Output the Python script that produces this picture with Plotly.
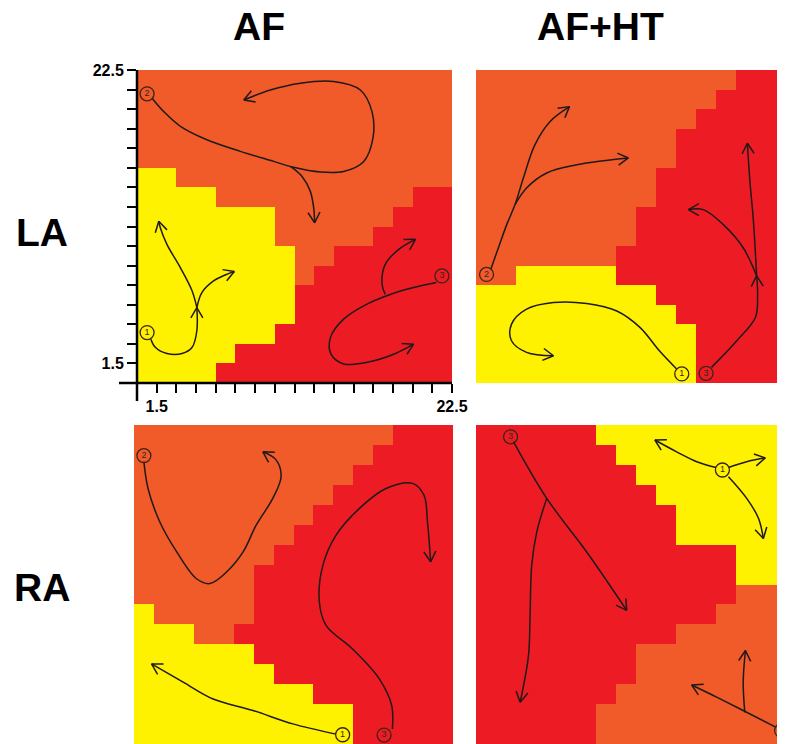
import math
import plotly.graph_objects as go

# the page is photographed in a 785x744 window; the plot div sits 8 px in from the
# top-left corner (default page margin), so the figure itself is 777x736
OFF = 8
W, H = 785 - OFF, 744 - OFF


def px(xp):
    return (xp - OFF) / W


def py(yp):
    return 1 - (yp - OFF) / H


# ---------------- data ----------------
col_titles = ["AF", "AF+HT"]
row_titles = ["LA", "RA"]
axis_tick_labels = ["1.5", "22.5"]

# cell centres (16 x 16 grid on a 1.5 ... 22.5 scale, step 1.4)
cell_centers = [0.8, 2.2, 3.6, 5.0, 6.4, 7.8, 9.2, 10.6, 12.0, 13.4, 14.8, 16.2, 17.6, 19.0, 20.4, 21.8]
cell_edges = [1.5, 2.9, 4.3, 5.7, 7.1, 8.5, 9.9, 11.3, 12.7, 14.1, 15.5, 16.9, 18.3, 19.7, 21.1, 22.5]

# dominant state per cell, top row first (Y = state 1, O = state 2, R = state 3)
grid_LA_AF = [
    "OOOOOOOOOOOOOOOO",
    "OOOOOOOOOOOOOOOO",
    "OOOOOOOOOOOOOOOO",
    "OOOOOOOOOOOOOOOO",
    "OOOOOOOOOOOOOOOO",
    "YYOOOOOOOOOOOOOO",
    "YYYYOOOOOOOOOORR",
    "YYYYYYYOOOOOORRR",
    "YYYYYYYOOOOORRRR",
    "YYYYYYYYOORRRRRR",
    "YYYYYYYYORRRRRRR",
    "YYYYYYYYRRRRRRRR",
    "YYYYYYYYRRRRRRRR",
    "YYYYYYYRRRRRRRRR",
    "YYYYYRRRRRRRRRRR",
    "YYYYRRRRRRRRRRRR",
]
grid_LA_AFHT = [
    "OOOOOOOOOOOOORRR",
    "OOOOOOOOOOOORRRR",
    "OOOOOOOOOOORRRRR",
    "OOOOOOOOOORRRRRR",
    "OOOOOOOOOORRRRRR",
    "OOOOOOOOORRRRRRR",
    "OOOOOOOOORRRRRRR",
    "OOOOOOOORRRRRRRR",
    "OOOOOOOORRRRRRRR",
    "OOOOOOORRRRRRRRR",
    "OOYYYYYRRRRRRRRR",
    "YYYYYYYYYRRRRRRR",
    "YYYYYYYYYYRRRRRR",
    "YYYYYYYYYYYRRRRR",
    "YYYYYYYYYYYRRRRR",
    "YYYYYYYYYYYRRRRR",
]
grid_RA_AF = [
    "OOOOOOOOOOOOORRR",
    "OOOOOOOOOOOORRRR",
    "OOOOOOOOOOORRRRR",
    "OOOOOOOOOORRRRRR",
    "OOOOOOOOORRRRRRR",
    "OOOOOOOORRRRRRRR",
    "OOOOOOORRRRRRRRR",
    "OOOOOORRRRRRRRRR",
    "OOOOOORRRRRRRRRR",
    "YOOOOORRRRRRRRRR",
    "YYYOORRRRRRRRRRR",
    "YYYYYYRRRRRRRRRR",
    "YYYYYYYRRRRRRRRR",
    "YYYYYYYYYRRRRRRR",
    "YYYYYYYYYYYRRRRR",
    "YYYYYYYYYYYRRRRR",
]
grid_RA_AFHT = [
    "RRRRRRYYYYYYYYYY",
    "RRRRRRRYYYYYYYYY",
    "RRRRRRRRYYYYYYYY",
    "RRRRRRRRRYYYYYYY",
    "RRRRRRRRRRYYYYYY",
    "RRRRRRRRRRYYYYYY",
    "RRRRRRRRRRRRRYYY",
    "RRRRRRRRRRRRRYYY",
    "RRRRRRRRRRRRROOO",
    "RRRRRRRRRRRROOOO",
    "RRRRRRRRRROOOOOO",
    "RRRRRRRROOOOOOOO",
    "RRRRRRRROOOOOOOO",
    "RRRRRRROOOOOOOOO",
    "RRRRRROOOOOOOOOO",
    "RRRRRROOOOOOOOOO",
]

# trajectories, as fractions (u across, v up) of the full 16x16 grid; arrow at the last point
paths_LA_AF = [
    [(0.044, 0.140), (0.058, 0.114), (0.095, 0.094), (0.143, 0.094), (0.175, 0.114), (0.190, 0.167), (0.190, 0.241)],
    [(0.190, 0.241), (0.175, 0.294), (0.138, 0.368), (0.095, 0.443), (0.074, 0.496), (0.069, 0.517)],
    [(0.190, 0.241), (0.206, 0.289), (0.243, 0.326), (0.280, 0.345), (0.309, 0.356)],
    [(0.048, 0.910), (0.085, 0.867), (0.138, 0.820), (0.222, 0.777), (0.328, 0.740), (0.434, 0.708),
     (0.497, 0.689), (0.582, 0.674), (0.656, 0.676), (0.720, 0.708), (0.749, 0.782), (0.746, 0.867),
     (0.709, 0.936), (0.624, 0.963), (0.519, 0.958), (0.423, 0.936), (0.339, 0.904)],
    [(0.487, 0.692), (0.524, 0.660), (0.550, 0.613), (0.561, 0.559), (0.564, 0.512)],
    [(0.950, 0.321), (0.878, 0.305), (0.804, 0.283), (0.730, 0.252), (0.656, 0.204), (0.614, 0.145),
     (0.616, 0.092), (0.656, 0.061), (0.730, 0.066), (0.815, 0.092), (0.878, 0.124)],
    [(0.788, 0.283), (0.778, 0.315), (0.788, 0.379), (0.831, 0.427), (0.884, 0.459)],
]
paths_LA_AFHT = [
    [(0.046, 0.363), (0.070, 0.432), (0.096, 0.506), (0.122, 0.570), (0.148, 0.655), (0.184, 0.761),
     (0.231, 0.835), (0.292, 0.883)],
    [(0.122, 0.570), (0.158, 0.623), (0.221, 0.671), (0.315, 0.697), (0.398, 0.710), (0.476, 0.719)],
    [(0.627, 0.045), (0.573, 0.103), (0.513, 0.177), (0.440, 0.230), (0.346, 0.254), (0.242, 0.257),
     (0.158, 0.236), (0.111, 0.188), (0.111, 0.135), (0.158, 0.098), (0.242, 0.087)],
    [(0.736, 0.050), (0.815, 0.135), (0.873, 0.209), (0.880, 0.283), (0.877, 0.342)],
    [(0.877, 0.342), (0.835, 0.432), (0.773, 0.506), (0.710, 0.554), (0.664, 0.554)],
    [(0.877, 0.342), (0.867, 0.517), (0.856, 0.644), (0.848, 0.766)],
]
paths_RA_AF = [
    [(0.031, 0.885), (0.044, 0.801), (0.081, 0.696), (0.134, 0.602), (0.196, 0.518), (0.238, 0.503),
     (0.290, 0.539), (0.342, 0.602), (0.383, 0.686), (0.435, 0.770), (0.461, 0.838), (0.446, 0.890),
     (0.404, 0.916)],
    [(0.633, 0.031), (0.498, 0.063), (0.373, 0.105), (0.248, 0.141), (0.154, 0.194), (0.055, 0.251)],
    [(0.810, 0.047), (0.808, 0.120), (0.769, 0.204), (0.685, 0.298), (0.602, 0.372), (0.581, 0.445),
     (0.592, 0.560), (0.633, 0.654), (0.706, 0.738), (0.790, 0.801), (0.873, 0.817), (0.909, 0.780),
     (0.920, 0.696), (0.930, 0.571)],
]
paths_RA_AFHT = [
    [(0.117, 0.948), (0.221, 0.770), (0.346, 0.602), (0.471, 0.419)],
    [(0.221, 0.770), (0.190, 0.665), (0.174, 0.560), (0.169, 0.403), (0.164, 0.277), (0.138, 0.131)],
    [(0.750, 0.867), (0.690, 0.885), (0.627, 0.916), (0.559, 0.953)],
    [(0.789, 0.867), (0.846, 0.885), (0.904, 0.897)],
    [(0.789, 0.838), (0.846, 0.770), (0.883, 0.707), (0.898, 0.644)],
    [(0.938, 0.052), (0.835, 0.105), (0.752, 0.147), (0.674, 0.185)],
    [(0.840, 0.099), (0.835, 0.194), (0.842, 0.293)],
]

# numbered start points (label, u, v)
starts_LA_AF = [("1", 0.032, 0.161), ("2", 0.032, 0.924), ("3", 0.968, 0.342)]
starts_LA_AFHT = [("2", 0.033, 0.347), ("1", 0.643, 0.029), ("3", 0.719, 0.031)]
starts_RA_AF = [("2", 0.031, 0.904), ("1", 0.654, 0.029), ("3", 0.784, 0.028)]
starts_RA_AFHT = [("3", 0.108, 0.963), ("1", 0.770, 0.859), ("2", 0.955, 0.042)]

# ---------------- styling / layout ----------------
colorscale = [[0.0, "#FFF200"], [0.333, "#FFF200"], [0.333, "#F15A29"], [0.667, "#F15A29"],
              [0.667, "#ED1C24"], [1.0, "#ED1C24"]]
state_code = {"Y": 0, "O": 1, "R": 2}
INK = "#1f1a1a"
FONT = "Liberation Sans, Arial, sans-serif"

panels = [
    dict(grid=grid_LA_AF, paths=paths_LA_AF, starts=starts_LA_AF,
         xd=[px(137), px(452)], yd=[py(383), py(70)], xr=[0.1, 22.5]),
    dict(grid=grid_LA_AFHT, paths=paths_LA_AFHT, starts=starts_LA_AFHT,
         xd=[px(476), 1.0], yd=[py(383), py(70)], xr=[0.1, 21.73]),
    dict(grid=grid_RA_AF, paths=paths_RA_AF, starts=starts_RA_AF,
         xd=[px(134), px(453)], yd=[0.0, py(425)], xr=[0.1, 22.5]),
    dict(grid=grid_RA_AFHT, paths=paths_RA_AFHT, starts=starts_RA_AFHT,
         xd=[px(476), 1.0], yd=[0.0, py(425)], xr=[0.1, 21.73]),
]
YR = [0.1, 22.5]


def to_data(f):
    return 0.1 + 22.4 * f


fig = go.Figure()
layout = dict(width=W, height=H, margin=dict(l=0, r=0, t=0, b=0, pad=0),
              paper_bgcolor="white", plot_bgcolor="white", showlegend=False,
              font=dict(family=FONT, color="black"))

for k, p in enumerate(panels):
    n = "" if k == 0 else str(k + 1)
    xa, ya = "x" + n, "y" + n
    z = [[state_code[c] for c in row] for row in reversed(p["grid"])]
    fig.add_trace(go.Heatmap(z=z, x=cell_centers, y=cell_centers, zmin=0, zmax=2,
                             colorscale=colorscale, showscale=False, hoverinfo="skip",
                             xaxis=xa, yaxis=ya))
    # pixel scale for arrowheads
    sx = (p["xd"][1] - p["xd"][0]) * W / (p["xr"][1] - p["xr"][0])
    sy = (p["yd"][1] - p["yd"][0]) * H / (YR[1] - YR[0])
    hx, hy = [], []
    for path in p["paths"]:
        xs = [to_data(u) for u, v in path]
        ys = [to_data(v) for u, v in path]
        fig.add_trace(go.Scatter(x=xs, y=ys, mode="lines",
                                 line=dict(color=INK, width=1.5, shape="spline", smoothing=1.0),
                                 hoverinfo="skip", xaxis=xa, yaxis=ya))
        tx, ty = xs[-1], ys[-1]
        dxp = (xs[-1] - xs[-2]) * sx
        dyp = (ys[-1] - ys[-2]) * sy
        ang = math.atan2(dyp, dxp)
        for s in (1, -1):
            a = ang + math.pi + s * math.radians(30)
            hx += [tx + 12 * math.cos(a) / sx, tx, None]
            hy += [ty + 12 * math.sin(a) / sy, ty, None]
    fig.add_trace(go.Scatter(x=hx, y=hy, mode="lines", line=dict(color=INK, width=1.5),
                             hoverinfo="skip", xaxis=xa, yaxis=ya))
    fig.add_trace(go.Scatter(x=[to_data(u) for _, u, v in p["starts"]],
                             y=[to_data(v) for _, u, v in p["starts"]],
                             text=[lab for lab, _, _ in p["starts"]], mode="markers+text",
                             textposition="middle center",
                             textfont=dict(size=9, color="#3a2418", family=FONT),
                             marker=dict(size=14, color="rgba(0,0,0,0)", line=dict(color="#3a2418", width=1.3)),
                             hoverinfo="skip", xaxis=xa, yaxis=ya))

    first = k == 0
    ticktext = [axis_tick_labels[0]] + [""] * 14 + [axis_tick_labels[1]]
    common = dict(showgrid=False, zeroline=False, showline=False, automargin=False)
    xax = dict(domain=p["xd"], range=p["xr"], anchor=ya, **common)
    yax = dict(domain=p["yd"], range=YR, anchor=xa, **common)
    if first:
        for ax in (xax, yax):
            ax.update(tickmode="array", tickvals=cell_edges, ticktext=ticktext, ticks="outside",
                      ticklen=9, tickwidth=1.5, tickcolor="black",
                      tickfont=dict(size=16, family=FONT, color="black", weight="bold"))
    else:
        xax.update(showticklabels=False, ticks="")
        yax.update(showticklabels=False, ticks="")
    layout["xaxis" + n] = xax
    layout["yaxis" + n] = yax

fig.update_layout(**layout)

# axis lines of the first panel (cross-shaped origin)
p0 = panels[0]
fig.add_shape(type="line", xref="paper", yref="paper", x0=p0["xd"][0] - 18 / W, x1=p0["xd"][1],
              y0=p0["yd"][0], y1=p0["yd"][0], line=dict(color="black", width=2.5))
fig.add_shape(type="line", xref="paper", yref="paper", x0=p0["xd"][0], x1=p0["xd"][0],
              y0=p0["yd"][0] - 18 / H, y1=p0["yd"][1], line=dict(color="black", width=2.5))

title_font = dict(family=FONT, size=39, color="black", weight="bold")
for txt, cx in zip(col_titles, [259, 600]):
    fig.add_annotation(text=txt, xref="paper", yref="paper", x=px(cx), y=py(27),
                       showarrow=False, xanchor="center", yanchor="middle", font=title_font)
for txt, cy in zip(row_titles, [233, 587]):
    fig.add_annotation(text=txt, xref="paper", yref="paper", x=px(42), y=py(cy),
                       showarrow=False, xanchor="center", yanchor="middle", font=title_font)

fig.write_html("out.html")
